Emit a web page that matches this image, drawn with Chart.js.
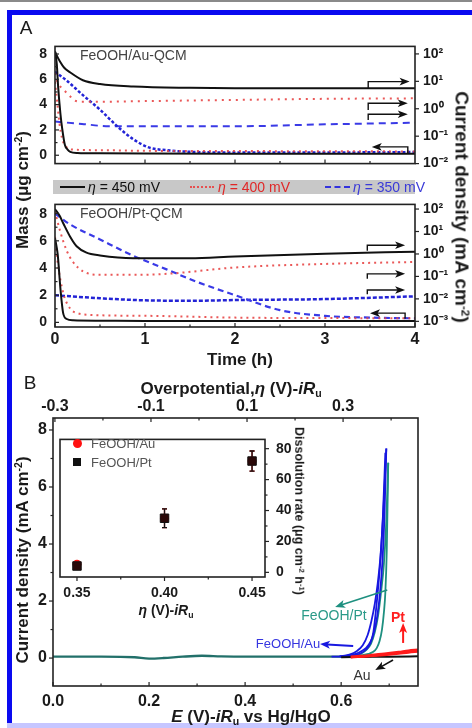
<!DOCTYPE html>
<html><head><meta charset="utf-8">
<script src="https://cdn.jsdelivr.net/npm/chart.js@4.4.1/dist/chart.umd.min.js"></script>
<style>
html,body{margin:0;padding:0;background:#fff;}
#page{position:relative;width:472px;height:728px;overflow:hidden;background:#fff;font-family:"Liberation Sans",Arial,Helvetica,sans-serif;color:#1a1a1a;}
canvas{position:absolute;}
.t{position:absolute;white-space:nowrap;line-height:1;transform:translate(-50%,-50%);}
.l{position:absolute;white-space:nowrap;line-height:1;transform:translate(0,-50%);}
sup,sub{font-size:62%;line-height:0;position:relative;vertical-align:baseline;}
sup{top:-0.55em;} sub{top:0.3em;}
</style></head><body><div id="page">
<div style="position:absolute;left:0;top:0;width:472px;height:2px;background:#8a8a8a"></div>
<div style="position:absolute;left:7px;top:10px;width:470px;height:708px;border-left:5px solid #0a0af0;border-top:5px solid #0a0af0"></div>
<div style="position:absolute;left:7px;top:723px;width:470px;height:5px;background:#c6c6ff"></div>
<div style="position:absolute;left:53px;top:180px;width:362px;height:14px;background:#c8c8c8"></div>
<canvas id="cA1" width="472" height="150" style="left:0;top:30px"></canvas>
<canvas id="cA2" width="472" height="162" style="left:0;top:188px"></canvas>
<canvas id="cB" width="472" height="358" style="left:0;top:370px"></canvas>
<canvas id="cI" width="260" height="190" style="left:50px;top:420px"></canvas>
<div id="txt"></div>
</div>
<script>
// ---------- DATA ----------
// Panel A top: FeOOH/Au-QCM (time in h)
const tAuBlkI = [0,0.03,0.055,0.1,0.17,0.31,0.5,0.87,1.5,2,3,4];
const auBlkI  = [120,75,53,32,21,11,8,6.5,5.8,5.6,5.6,5.6];
const tAuBlkM = [0,0.02,0.035,0.06,0.08,0.11,0.14,0.17,0.25,0.5,1,2,3,4];
const auBlkM  = [8.2,7.2,5.4,3.3,2.1,0.8,0.45,0.27,0.18,0.15,0.13,0.12,0.12,0.12];
const tAuRedI = [0,0.03,0.09,0.17,0.22,0.3,0.5,1,2,3,4];
const auRedI  = [20,9,5.2,2.8,2.0,1.8,1.8,1.9,2.1,2.3,2.4];
const tAuRedM = [0,0.02,0.05,0.08,0.12,0.2,0.5,1,2,3,4];
const auRedM  = [5.8,4.5,2.5,1.3,0.7,0.45,0.4,0.35,0.33,0.32,0.3];
const tAuBluM = [0,0.13,0.31,0.5,0.69,0.87,1.05,1.24,1.5,2,3,4];
const auBluM  = [6.6,5.9,4.75,3.6,2.3,1.26,0.6,0.4,0.27,0.22,0.22,0.25];
const tAuBluI = [0,0.3,0.6,1,2,3,4];
const auBluI  = [0.34,0.28,0.23,0.23,0.23,0.27,0.31];
// Panel A bottom: FeOOH/Pt-QCM
const tPtBlkI = [0,0.05,0.09,0.17,0.24,0.35,0.5,0.87,1.5,2,3,4];
const ptBlkI  = [100,51,24,5.7,2.2,1.14,0.86,0.65,0.65,0.78,1.03,1.26];
const tPtBlkM = [0,0.03,0.06,0.09,0.13,0.2,0.5,1,2,3,4];
const ptBlkM  = [6.2,5.0,2.5,0.7,0.25,0.15,0.12,0.1,0.1,0.1,0.1];
const tPtRedI = [0,0.055,0.13,0.2,0.31,0.5,0.87,1.24,2,3,4];
const ptRedI  = [80,11,1.4,0.44,0.17,0.118,0.118,0.13,0.25,0.36,0.44];
const tPtRedM = [0,0.03,0.09,0.17,0.24,0.39,1.05,2,3,4];
const ptRedM  = [6.3,4.4,2.2,1.0,0.7,0.55,0.48,0.35,0.32,0.3];
const tPtBluM = [0,0.17,0.5,0.87,1.24,1.57,2,2.5,3,3.5,4];
const ptBluM  = [8.0,7.2,6.1,4.9,3.9,3.0,2.0,0.9,0.48,0.35,0.3];
const tPtBluI = [0,0.5,0.89,1.5,2,3,4];
const ptBluI  = [0.0145,0.0107,0.0089,0.0082,0.0089,0.0098,0.013];
// Panel B: current density vs E
const eBase = [0,0.1,0.17,0.2,0.23,0.27,0.31,0.35,0.4,0.5,0.6,0.63];
const jBase = [0.05,0.05,0.03,-0.02,0,0.05,0.08,0.06,0.05,0.05,0.05,0.05];
const eAu1 = [0.58,0.6,0.617,0.632,0.642,0.652,0.662,0.669,0.675,0.681,0.686,0.69,0.694];
const jAu1 = [0.05,0.06,0.1,0.16,0.24,0.36,0.6,0.95,1.45,2.3,3.4,4.9,7.35];
const eAu2 = [0.694,0.688,0.682,0.676,0.67,0.663,0.655,0.645,0.633,0.617,0.597];
const jAu2 = [7.35,5.2,3.6,2.6,1.9,1.3,0.8,0.45,0.25,0.12,0.06];
const eAu3 = [0.597,0.627,0.642,0.652,0.66,0.667,0.675,0.682,0.687,0.692];
const jAu3 = [0.05,0.1,0.18,0.3,0.5,0.9,2.1,3.5,5.0,7.2];
const ePt1 = [0.617,0.642,0.657,0.667,0.674,0.68,0.685,0.689,0.692,0.695,0.698];
const jPt1 = [0.05,0.1,0.15,0.22,0.35,0.6,1.0,1.6,2.3,3.8,6.85];
const ePt2 = [0.698,0.694,0.689,0.683,0.677,0.67,0.662,0.652,0.637,0.617];
const jPt2 = [6.85,4.8,3.3,2.3,1.5,0.9,0.5,0.28,0.12,0.06];
const ePtBare = [0.62,0.64,0.66,0.69,0.72,0.74,0.76];
const jPtBare = [0.04,0.06,0.09,0.14,0.2,0.25,0.28];
const jPtBare2 = [0.03,0.04,0.06,0.1,0.15,0.19,0.22];
const eAuBare = [0.6,0.65,0.7,0.76];
const jAuBare = [0.03,0.04,0.05,0.06];
// Inset: dissolution rate vs overpotential
const etaIns = [0.35,0.40,0.45];
const rateAu = [5.3,35,72];
const errAu  = [1.2,6,6.5];
const ratePt = [4.1,35,72];
const errPt  = [1.2,6,6.5];
// Ticks
const tTicks = [0,1,2,3,4];
const tMinor = [0.5,1.5,2.5,3.5];
const massTicks = [0,2,4,6,8];
const massMinor = [1,3,5,7];
const curTicksAu = [1e-2,1e-1,1,10,100];
const curLabelsAu = ['10\u207B\u00B2','10\u207B\u00B9','10\u2070','10\u00B9','10\u00B2'];
const curTicksPt = [1e-3,1e-2,1e-1,1,10,100];
const curLabelsPt = ['10\u207B\u00B3','10\u207B\u00B2','10\u207B\u00B9','10\u2070','10\u00B9','10\u00B2'];
const eTicks = [0,0.2,0.4,0.6];
const eMinor = [0.1,0.3,0.5,0.7];
const jTicks = [0,2,4,6,8];
const jMinor = [1,3,5,7];
const etaTicks = [-0.3,-0.1,0.1,0.3];
const etaMinor = [-0.2,0,0.2,0.4];
const insTicks = [0.35,0.40,0.45];
const insMinor = [0.375,0.425];
const rateTicks = [0,20,40,60,80];
const rateMinor = [10,30,50,70];

// ---------- SETUP ----------
const FONT='"Liberation Sans", Arial, Helvetica, sans-serif';
Chart.defaults.font.family=FONT;
Chart.defaults.color='#1a1a1a';
Chart.defaults.animation=false;
Chart.defaults.plugins.legend.display=false;
Chart.defaults.plugins.tooltip.enabled=false;

function P(xs,ys){return xs.map((x,i)=>({x:x,y:ys[i]}));}
function line(xs,ys,axis,color,dash,w){
  return {data:P(xs,ys),yAxisID:axis,borderColor:color,borderDash:dash||[],borderWidth:w||2,
    pointRadius:0,showLine:true,fill:false,tension:0.3,cubicInterpolationMode:'monotone'};
}
function axis(o){
  return {type:o.type||'linear',position:o.pos,min:o.min,max:o.max,display:true,
    grid:{display:false,drawTicks:false},border:{display:false},
    afterBuildTicks:s=>{s.ticks=(o.vals||[]).map(v=>({value:v}));},
    afterFit:s=>{if(o.w!==undefined)s.width=o.w;if(o.h!==undefined)s.height=o.h;},
    ticks:{display:o.show!==false,autoSkip:false,maxRotation:0,minRotation:0,padding:o.pad||4,
      font:{size:o.size||14,weight:'bold'},color:'#1a1a1a',
      callback:(v,i)=>o.labels?o.labels[i]:(o.fmt?o.fmt(v):String(v))}};
}
function head(ctx,x,y,ang,L,W){
  ctx.save();ctx.translate(x,y);ctx.rotate(ang);
  ctx.beginPath();ctx.moveTo(0,0);ctx.lineTo(-L,-W);ctx.lineTo(-L*0.75,0);ctx.lineTo(-L,W);ctx.closePath();ctx.fill();
  ctx.restore();
}
const deco={
  id:'deco',
  beforeDatasetsDraw(chart,a,o){
    const ctx=chart.ctx,c=chart.chartArea;
    ctx.save();
    if(o.fill){ctx.fillStyle=o.fill;ctx.fillRect(c.left,c.top,c.width,c.height);}
    (o.errs||[]).forEach(e=>{
      const sx=chart.scales.x,sy=chart.scales[e.axis];
      ctx.strokeStyle=e.color;ctx.lineWidth=1.3;
      e.x.forEach((xv,i)=>{
        const px=sx.getPixelForValue(xv),y1=sy.getPixelForValue(e.y[i]-e.e[i]),y2=sy.getPixelForValue(e.y[i]+e.e[i]);
        ctx.beginPath();ctx.moveTo(px,y1);ctx.lineTo(px,y2);
        ctx.moveTo(px-2.5,y1);ctx.lineTo(px+2.5,y1);ctx.moveTo(px-2.5,y2);ctx.lineTo(px+2.5,y2);ctx.stroke();
      });
    });
    ctx.restore();
  },
  afterDraw(chart,a,o){
    const ctx=chart.ctx,c=chart.chartArea;
    ctx.save();
    ctx.strokeStyle='#222';ctx.lineWidth=1.2;
    (o.ticks||[]).forEach(t=>{
      const s=chart.scales[t.id];
      [[t.major||[],t.len||4],[t.minor||[],t.mlen||2.5]].forEach(([vals,len])=>{
        vals.forEach(v=>{
          const p=s.getPixelForValue(v);const d=t.out?-1:1;
          ctx.beginPath();
          if(s.position==='bottom'){ctx.moveTo(p,c.bottom);ctx.lineTo(p,c.bottom-d*len);}
          else if(s.position==='top'){ctx.moveTo(p,c.top);ctx.lineTo(p,c.top+d*len);}
          else if(s.position==='left'){ctx.moveTo(c.left,p);ctx.lineTo(c.left+d*len,p);}
          else{ctx.moveTo(c.right,p);ctx.lineTo(c.right-d*len,p);}
          ctx.stroke();
        });
      });
    });
    (o.elbows||[]).forEach(e=>{
      const sx=chart.scales.x,sy=chart.scales[e.axis];
      const x0=sx.getPixelForValue(e.x0),x1=sx.getPixelForValue(e.x1),ys=sy.getPixelForValue(e.ys),yl=sy.getPixelForValue(e.yl);
      ctx.strokeStyle='#111';ctx.fillStyle='#111';ctx.lineWidth=1.4;
      ctx.beginPath();ctx.moveTo(x0,ys);ctx.lineTo(x0,yl);ctx.lineTo(x1-Math.sign(x1-x0)*7,yl);ctx.stroke();
      head(ctx,x1,yl,x1>x0?0:Math.PI,10,3.8);
    });
    (o.arrows||[]).forEach(e=>{
      const sx=chart.scales.x,sy=chart.scales.y;
      const x0=sx.getPixelForValue(e.x0),x1=sx.getPixelForValue(e.x1),y0=sy.getPixelForValue(e.y0),y1=sy.getPixelForValue(e.y1);
      const ang=Math.atan2(y1-y0,x1-x0);
      ctx.strokeStyle=e.color;ctx.fillStyle=e.color;ctx.lineWidth=e.w||1.6;
      ctx.beginPath();ctx.moveTo(x0,y0);ctx.lineTo(x1-Math.cos(ang)*7,y1-Math.sin(ang)*7);ctx.stroke();
      head(ctx,x1,y1,ang,10,4);
    });
    ctx.strokeStyle='#222';ctx.lineWidth=1.6;ctx.strokeRect(c.left,c.top,c.width,c.height);
    ctx.restore();
  }
};

const BLK='#111111',RED='rgba(232,70,70,0.9)',BLU='#2323d6',BLU2='#3a3ae6';

// ---------- Chart A1 (Au) ----------
new Chart(document.getElementById('cA1'),{
  type:'scatter',
  data:{datasets:[
    line(tAuBlkI,auBlkI,'yR',BLK,[],2),
    line(tAuBlkM,auBlkM,'y',BLK,[],2),
    line(tAuRedI,auRedI,'yR',RED,[2,5],2),
    line(tAuRedM,auRedM,'y',RED,[2,4],2),
    line(tAuBluM,auBluM,'y',BLU,[3,2],2.5),
    line(tAuBluI,auBluI,'yR',BLU2,[7,5],2)
  ]},
  options:{responsive:false,layout:{padding:{top:7,bottom:3,left:0,right:0}},
    scales:{
      x:axis({pos:'bottom',min:0,max:4,vals:[],show:false,h:0}),
      y:axis({pos:'left',min:-0.66,max:8.6,vals:massTicks,w:55,pad:8,size:14}),
      yR:axis({type:'logarithmic',pos:'right',min:1e-2,max:188,vals:curTicksAu,labels:curLabelsAu,w:57,pad:8,size:14})
    },
    plugins:{deco:{ticks:[
      {id:'x',major:tTicks.slice(1,4),minor:tMinor},
      {id:'y',major:massTicks,minor:massMinor},
      {id:'yR',major:curTicksAu,out:true}],
      elbows:[
        {axis:'yR',x0:3.48,ys:5.6,yl:9.8,x1:3.94},
        {axis:'yR',x0:3.48,ys:0.9,yl:1.58,x1:3.92},
        {axis:'yR',x0:3.48,ys:0.39,yl:0.63,x1:3.92},
        {axis:'y',x0:3.92,ys:0.13,yl:0.66,x1:3.52}]}}
  },
  plugins:[deco]
});

// ---------- Chart A2 (Pt) ----------
new Chart(document.getElementById('cA2'),{
  type:'scatter',
  data:{datasets:[
    line(tPtBlkI,ptBlkI,'yR',BLK,[],2),
    line(tPtBlkM,ptBlkM,'y',BLK,[],2),
    line(tPtRedI,ptRedI,'yR',RED,[2,4],2),
    line(tPtRedM,ptRedM,'y',RED,[2,4],2),
    line(tPtBluM,ptBluM,'y',BLU2,[6,4],2.2),
    line(tPtBluI,ptBluI,'yR',BLU,[4,2],2.5)
  ]},
  options:{responsive:false,layout:{padding:{top:7,bottom:0,left:0,right:0}},
    scales:{
      x:axis({pos:'bottom',min:0,max:4,vals:tTicks,h:23,pad:3,size:16}),
      y:axis({pos:'left',min:-0.34,max:8.68,vals:massTicks,w:55,pad:8,size:14}),
      yR:axis({type:'logarithmic',pos:'right',min:5.6e-4,max:161,vals:curTicksPt,labels:curLabelsPt,w:57,pad:8,size:14})
    },
    plugins:{deco:{ticks:[
      {id:'x',major:tTicks,minor:tMinor},
      {id:'y',major:massTicks,minor:massMinor},
      {id:'yR',major:curTicksPt,out:true}],
      elbows:[
        {axis:'yR',x0:3.47,ys:1.38,yl:2.45,x1:3.89},
        {axis:'yR',x0:3.47,ys:0.079,yl:0.13,x1:3.89},
        {axis:'yR',x0:3.47,ys:0.016,yl:0.025,x1:3.89},
        {axis:'y',x0:3.89,ys:0.27,yl:0.68,x1:3.5}]}}
  },
  plugins:[deco]
});

// ---------- Chart B ----------
const TEAL='#1e9080',BBLU='#1818e0',PRED='#ff1a1a';
function bl(xs,ys,c,w){return line(xs,ys,'y',c,[],w||1.8);}
new Chart(document.getElementById('cB'),{
  type:'scatter',
  data:{datasets:[
    bl(ePtBare,jPtBare,PRED,3),
    bl(ePtBare,jPtBare2,PRED,2),
    bl(eAuBare,jAuBare,BLK,2),
    bl(eAu1,jAu1,BBLU,1.8),
    bl(eAu2,jAu2,BBLU,1.8),
    bl(eAu3,jAu3,BBLU,1.8),
    bl(ePt1,jPt1,TEAL,1.8),
    bl(ePt2,jPt2,TEAL,1.8),
    bl(eBase,jBase,'#22706a',2.4)
  ]},
  options:{responsive:false,layout:{padding:{top:0,bottom:0,left:0,right:54}},
    scales:{
      x:axis({pos:'bottom',min:0,max:0.76,vals:eTicks,fmt:v=>v.toFixed(1),h:42,pad:6,size:16}),
      x2:axis({pos:'top',min:-0.304,max:0.456,vals:etaTicks,fmt:v=>v.toFixed(1),h:48,pad:2,size:16}),
      y:axis({pos:'left',min:-0.98,max:8.42,vals:jTicks,w:53,pad:6,size:16})
    },
    plugins:{deco:{ticks:[
      {id:'x',major:eTicks,minor:eMinor},
      {id:'x2',major:etaTicks,minor:etaMinor},
      {id:'y',major:jTicks,minor:jMinor,out:true}],
      arrows:[
        {x0:0.696,y0:2.39,x1:0.5875,y1:1.79,color:TEAL},
        {x0:0.625,y0:0.42,x1:0.556,y1:0.49,color:BBLU,w:2},
        {x0:0.729,y0:0.53,x1:0.729,y1:1.23,color:PRED,w:2},
        {x0:0.708,y0:-0.07,x1:0.671,y1:-0.42,color:BLK}]}}
  },
  plugins:[deco]
});

// ---------- Inset ----------
new Chart(document.getElementById('cI'),{
  type:'scatter',
  data:{datasets:[
    {data:P(etaIns,ratePt),yAxisID:'y',pointStyle:'rect',pointRadius:6,backgroundColor:'#2a0808',borderColor:'#111',borderWidth:1},
    {data:P(etaIns,rateAu),yAxisID:'y',pointStyle:'circle',pointRadius:4.5,backgroundColor:'#ff1010',borderColor:'#ff1010',borderWidth:0}
  ]},
  options:{responsive:false,layout:{padding:{top:7,bottom:0,left:10,right:0}},
    scales:{
      x:axis({pos:'bottom',min:0.3403,max:0.4574,vals:insTicks,fmt:v=>v.toFixed(2),h:33,pad:8,size:14}),
      y:axis({pos:'right',min:-3,max:86,vals:rateTicks,w:45,pad:11,size:14})
    },
    plugins:{deco:{fill:'#ffffff',
      errs:[{axis:'y',x:etaIns,y:rateAu,e:errAu,color:'#cc1010'},{axis:'y',x:etaIns,y:ratePt,e:errPt,color:'#111'}],
      ticks:[{id:'x',major:insTicks,minor:insMinor,out:true},{id:'y',major:rateTicks,minor:rateMinor,out:true}]}}
  },
  plugins:[deco]
});

// ---------- TEXT ----------
const txt=document.getElementById('txt');
function T(html,x,y,css,rot,cls){
  const d=document.createElement('div');d.className=cls||'t';d.innerHTML=html;
  d.style.left=x+'px';d.style.top=y+'px';
  if(css)d.style.cssText+=css;
  if(rot)d.style.transform='translate(-50%,-50%) rotate('+rot+'deg)';
  txt.appendChild(d);return d;
}
function Sw(x,y,w,border){
  const d=document.createElement('div');d.style.cssText='position:absolute;left:'+x+'px;top:'+y+'px;width:'+w+'px;height:0;border-top:'+border;
  txt.appendChild(d);
}
T('A',26,27,'font-size:19px;');
T('FeOOH/Au-QCM',80,55,'font-size:14px;color:#444;',0,'l');
T('FeOOH/Pt-QCM',80,213,'font-size:14px;color:#444;',0,'l');
Sw(60,186,25,'2px solid #111');
T('<i>η</i> = 450 mV',88,187,'font-size:14px;color:#111;',0,'l');
Sw(190,186,24,'2px dotted #e65050');
T('<i>η</i> = 400 mV',218,187,'font-size:14px;color:#e02828;',0,'l');
Sw(325,186,25,'2px dashed #3333dd');
T('<i>η</i> = 350 mV',353,187,'font-size:14px;color:#3a3ad8;',0,'l');
T('Mass (μg cm<sup>-2</sup>)',22,190,'font-size:17px;font-weight:bold;',-90);
T('Current density (mA cm<sup>-2</sup>)',462,207,'font-size:19px;font-weight:bold;',90);
T('Time (h)',240,359,'font-size:17px;font-weight:bold;');
T('B',30,382,'font-size:19px;');
T('Overpotential,<i>η</i> (V)-<i>iR</i><sub>u</sub>',231,388,'font-size:17px;font-weight:bold;');
T('Current density (mA cm<sup>-2</sup>)',22,560,'font-size:17px;font-weight:bold;',-90);
T('<i>E</i> (V)-<i>iR</i><sub>u</sub> vs Hg/HgO',251,716,'font-size:17px;font-weight:bold;');
T('<i>η</i> (V)-<i>iR</i><sub>u</sub>',166,610,'font-size:14px;font-weight:bold;');
T('Dissolution rate (μg cm<sup>-2</sup> h<sup>-1</sup>)',299,511,'font-size:12.5px;font-weight:bold;',90);
// inset legend
const dot=document.createElement('div');dot.style.cssText='position:absolute;left:73px;top:439px;width:9px;height:9px;border-radius:50%;background:#ff1010';txt.appendChild(dot);
const sq=document.createElement('div');sq.style.cssText='position:absolute;left:73px;top:458px;width:8px;height:8px;background:#111';txt.appendChild(sq);
T('FeOOH/Au',91,443,'font-size:13px;color:#555;',0,'l');
T('FeOOH/Pt',91,462,'font-size:13px;color:#555;',0,'l');
// panel B annotations
T('FeOOH/Pt',334,615,'font-size:14px;color:#2a9a88;');
T('FeOOH/Au',288,643,'font-size:13px;color:#3535e0;');
T('Pt',398,617,'font-size:14px;font-weight:bold;color:#ff2020;');
T('Au',362,675,'font-size:14px;color:#333;');
</script>
</body></html>
